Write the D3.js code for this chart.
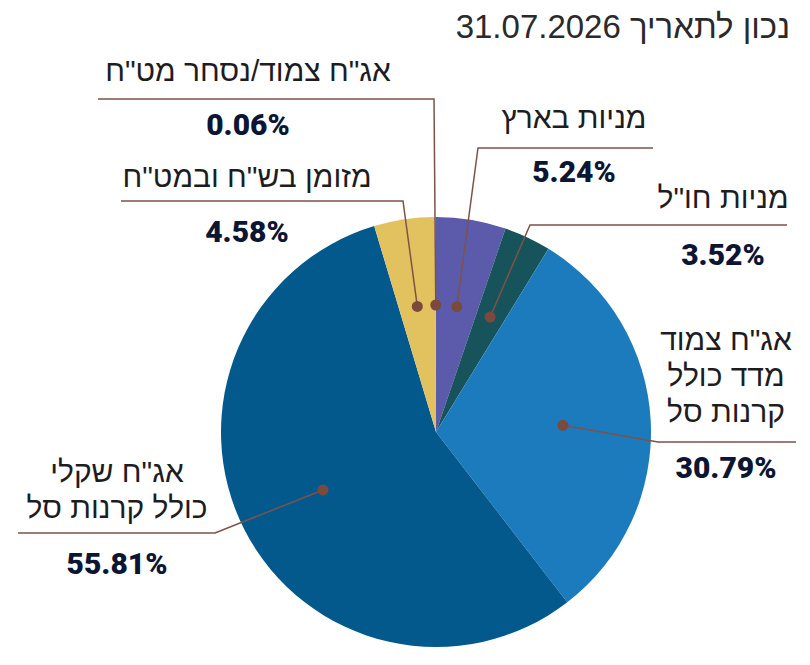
<!DOCTYPE html>
<html lang="he">
<head>
<meta charset="utf-8">
<script src="https://cdn.jsdelivr.net/npm/d3@7"></script>
<style>
  html, body { margin: 0; padding: 0; background: #fff; }
  svg { display: block; }
</style>
</head>
<body>
<script>
var w = 810;
var h = 665;

// data, clockwise from 12 o'clock
var categories = [
  ["מניות בארץ"],
  ["מניות חו\"ל"],
  ["אג\"ח צמוד", "מדד כולל", "קרנות סל"],
  ["אג\"ח שקלי", "כולל קרנות סל"],
  ["מזומן בש\"ח ובמט\"ח"],
  ["אג\"ח צמוד/נסחר מט\"ח"]
];
var values = [5.24, 3.52, 30.79, 55.81, 4.58, 0.06];
var title = "נכון לתאריך 31.07.2026";

var colors = ["#5c5aab", "#17535b", "#1b7bbd", "#04598c", "#e1c25e", "#7cc47f"];

// leader layout: elbow point, end of horizontal, label centre x, label baselines, percent baseline
var layout = [
  { ex: 478, ey: 148, hx: 653, tx: 574, ty: [128], py: 182 },
  { ex: 530, ey: 225, hx: 787, tx: 723, ty: [208], py: 265 },
  { ex: 658, ey: 442, hx: 796, tx: 726, ty: [350, 386, 422], py: 478 },
  { ex: 215, ey: 533, hx: 18,  tx: 117, ty: [482, 518], py: 574 },
  { ex: 403, ey: 201, hx: 121, tx: 247, ty: [187], py: 242 },
  { ex: 434, ey: 99,  hx: 98,  tx: 248, ty: [81], py: 135 }
];

var cx = 436, cy = 432, r = 215;

var svg = d3.select("body")
  .append("svg")
  .attr("width", w)
  .attr("height", h);

var pie = d3.pie().sort(null).value(function(d) { return d; });
var arcs = pie(values);

var arc = d3.arc().innerRadius(0).outerRadius(r);
var dotArc = d3.arc().innerRadius(127).outerRadius(127);

var g = svg.append("g").attr("transform", "translate(" + cx + "," + cy + ")");

g.selectAll("path")
  .data(arcs)
  .enter()
  .append("path")
  .attr("d", arc)
  .attr("fill", function(d, i) { return colors[i]; });

// leader lines
svg.selectAll("polyline")
  .data(arcs)
  .enter()
  .append("polyline")
  .attr("points", function(d, i) {
    var c = dotArc.centroid(d);
    var L = layout[i];
    return [[cx + c[0], cy + c[1]], [L.ex, L.ey], [L.hx, L.ey]].join(" ");
  })
  .attr("fill", "none")
  .attr("stroke", "#7d5249")
  .attr("stroke-width", 1.5);

svg.selectAll("circle")
  .data(arcs)
  .enter()
  .append("circle")
  .attr("cx", function(d) { return cx + dotArc.centroid(d)[0]; })
  .attr("cy", function(d) { return cy + dotArc.centroid(d)[1]; })
  .attr("r", 5.5)
  .attr("fill", "#7b4a3d");

// category labels
categories.forEach(function(lines, i) {
  lines.forEach(function(t, j) {
    svg.append("text")
      .attr("x", layout[i].tx)
      .attr("y", layout[i].ty[j])
      .attr("text-anchor", "middle")
      .attr("direction", "rtl")
      .attr("font-family", "'Liberation Sans Narrow', 'Liberation Sans', Arial, sans-serif")
      .attr("font-size", 30)
      .attr("fill", "#1d1d1f")
      .text(t);
  });
});

// percentages
svg.selectAll("text.pct")
  .data(values)
  .enter()
  .append("text")
  .attr("class", "pct")
  .attr("x", function(d, i) { return layout[i].tx; })
  .attr("y", function(d, i) { return layout[i].py; })
  .attr("text-anchor", "middle")
  .attr("font-family", "Roboto, sans-serif")
  .attr("font-weight", 900)
  .attr("font-size", 30)
  .attr("fill", "#0c1633")
  .text(function(d) { return d.toFixed(2) + "%"; });

svg.append("text")
  .attr("x", 790)
  .attr("y", 38)
  .attr("text-anchor", "start")
  .attr("direction", "rtl")
  .attr("font-family", "'Liberation Sans Narrow', 'Liberation Sans', Arial, sans-serif")
  .attr("font-size", 33)
  .attr("fill", "#2a2a2a")
  .text(title);
</script>
</body>
</html>
